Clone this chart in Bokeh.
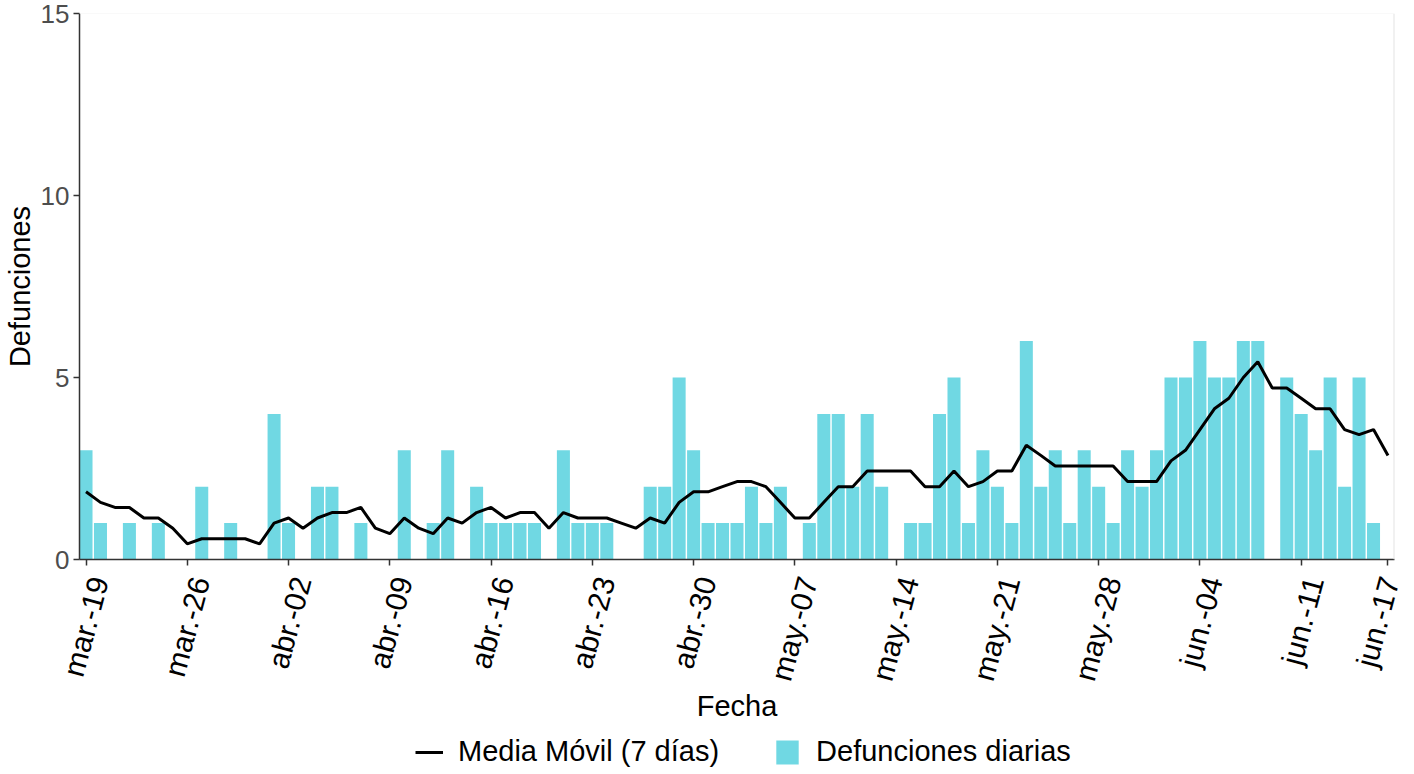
import math
from bokeh.plotting import figure
from bokeh.layouts import column
from bokeh.models import (Range1d, FixedTicker, Legend, LegendItem, Span,
                          LinearAxis, CustomJSTickFormatter)
from bokeh.embed import file_html
from bokeh.resources import INLINE

# ---- data ----
dias = list(range(91))  # 19-mar .. 17-jun
defunciones = [3, 1, 0, 1, 0, 1, 0, 0, 2, 0,
               1, 0, 0, 4, 1, 0, 2, 2, 0, 1,
               0, 0, 3, 0, 1, 3, 0, 2, 1, 1,
               1, 1, 0, 3, 1, 1, 1, 0, 0, 2,
               2, 5, 3, 1, 1, 1, 2, 1, 2, 0,
               1, 4, 4, 2, 4, 2, 0, 1, 1, 4,
               5, 1, 3, 2, 1, 6, 2, 3, 1, 3,
               2, 1, 3, 2, 3, 5, 5, 6, 5, 5,
               6, 6, 0, 5, 4, 3, 5, 2, 5, 1, 0]
media_movil = [1.86, 1.57, 1.43, 1.43, 1.14, 1.14, 0.86, 0.43, 0.57, 0.57,
               0.57, 0.57, 0.43, 1.00, 1.14, 0.86, 1.14, 1.29, 1.29, 1.43,
               0.86, 0.71, 1.14, 0.86, 0.71, 1.14, 1.00, 1.29, 1.43, 1.14,
               1.29, 1.29, 0.86, 1.29, 1.14, 1.14, 1.14, 1.00, 0.86, 1.14,
               1.00, 1.57, 1.86, 1.86, 2.00, 2.14, 2.14, 2.00, 1.57, 1.14,
               1.14, 1.57, 2.00, 2.00, 2.43, 2.43, 2.43, 2.43, 2.00, 2.00,
               2.43, 2.00, 2.14, 2.43, 2.43, 3.14, 2.86, 2.57, 2.57, 2.57,
               2.57, 2.57, 2.14, 2.14, 2.14, 2.71, 3.00, 3.57, 4.14, 4.43,
               5.00, 5.43, 4.71, 4.71, 4.43, 4.14, 4.14, 3.57, 3.43, 3.57, 2.86]
tick_dias = [0, 7, 14, 21, 28, 35, 42, 49, 56, 63, 70, 77, 84, 90]
tick_labels = ["mar.-19", "mar.-26", "abr.-02", "abr.-09", "abr.-16", "abr.-23",
               "abr.-30", "may.-07", "may.-14", "may.-21", "may.-28", "jun.-04",
               "jun.-11", "jun.-17"]
y_ticks = [0, 5, 10, 15]

FONT = "Liberation Sans"
BAR = "#70D8E3"
X0, X1 = -0.45, 90.45
LABEL_SHIFT = 0.9  # labels sit a little right of their tick (days)

p = figure(frame_width=1315, frame_height=546, output_backend="svg",
           toolbar_location=None,
           x_range=Range1d(X0, X1), y_range=Range1d(0, 15),
           min_border_left=72, min_border_right=11, min_border_top=13,
           min_border_bottom=155)
p.background_fill_color = "white"
p.border_fill_color = "white"
p.outline_line_color = None
p.grid.visible = False

r_bars = p.vbar(x=dias, top=defunciones, width=0.9, fill_color=BAR,
                line_color=None)
r_line = p.line(x=dias, y=media_movil, line_color="black", line_width=3)

# panel border (light) top and right
p.add_layout(Span(location=X1, dimension="height", line_color="#E3E3E3",
                  line_width=2))
p.add_layout(Span(location=15, dimension="width", line_color="#F3F3F3",
                  line_width=1))

# y axis
yax = p.yaxis[0]
yax.ticker = FixedTicker(ticks=y_ticks)
yax.minor_tick_line_color = None
yax.major_tick_in = 0
yax.major_tick_out = 6
yax.axis_line_color = "#333333"
yax.axis_line_width = 1.5
yax.major_tick_line_color = "#333333"
yax.major_tick_line_width = 1.5
yax.major_label_text_font = FONT
yax.major_label_text_font_size = "26px"
yax.major_label_text_color = "#4D4D4D"
yax.major_label_standoff = 4
yax.axis_label = "Defunciones"
yax.axis_label_text_font = FONT
yax.axis_label_text_font_size = "29px"
yax.axis_label_text_font_style = "normal"
yax.axis_label_text_color = "black"
yax.axis_label_standoff = 2

# x axis: line + tick marks at the dates
xax = p.xaxis[0]
xax.ticker = FixedTicker(ticks=tick_dias)
xax.formatter = CustomJSTickFormatter(code="return ''")
xax.minor_tick_line_color = None
xax.major_tick_in = 0
xax.major_tick_out = 6
xax.major_label_standoff = 0
xax.axis_line_color = "#333333"
xax.axis_line_width = 1.5
xax.major_tick_line_color = "#333333"
xax.major_tick_line_width = 1.5

# x labels (rotated) + axis title
label_pos = [min(d + LABEL_SHIFT, X1 - 0.02) for d in tick_dias]
lax = LinearAxis(ticker=FixedTicker(ticks=label_pos),
                 major_label_overrides={lp: lab for lp, lab in zip(label_pos, tick_labels)})
lax.major_label_orientation = math.radians(75)
lax.axis_line_color = None
lax.major_tick_line_color = None
lax.minor_tick_line_color = None
lax.major_tick_in = 0
lax.major_tick_out = 0
lax.major_label_standoff = 12
lax.major_label_text_font = FONT
lax.major_label_text_font_size = "30px"
lax.major_label_text_color = "black"
lax.axis_label = "Fecha"
lax.axis_label_text_font = FONT
lax.axis_label_text_font_size = "29px"
lax.axis_label_text_font_style = "normal"
lax.axis_label_text_color = "black"
lax.axis_label_standoff = -2
p.add_layout(lax, "below")

# ---- legend strip below the chart ----
leg = figure(frame_width=1315, frame_height=44, output_backend="svg",
             toolbar_location=None,
             x_range=Range1d(0, 1), y_range=Range1d(0, 1),
             min_border_left=72, min_border_right=11, min_border_top=0,
             min_border_bottom=0)
leg.axis.visible = False
leg.grid.visible = False
leg.outline_line_color = None
leg.background_fill_color = "white"
leg.border_fill_color = "white"
# legend proxies with no visible footprint
l_line = leg.line(x=[0.5], y=[0.5], line_color="black", line_width=3)
l_bars = leg.vbar(x=[0.5], top=[0], bottom=[0], width=0.9, fill_color=BAR,
                  line_color=None)

legend = Legend(items=[LegendItem(label="Media Móvil (7 días)", renderers=[l_line]),
                       LegendItem(label="Defunciones diarias", renderers=[l_bars])],
                orientation="horizontal", location=(336, 0), padding=0,
                margin=0, spacing=54, label_standoff=15, glyph_width=28,
                glyph_height=30, label_text_font=FONT, label_text_font_size="29px",
                label_text_color="black", border_line_color=None,
                background_fill_alpha=0)
leg.add_layout(legend)

layout = column(p, leg, spacing=0)
open("out.html", "w").write(file_html(layout, INLINE))
